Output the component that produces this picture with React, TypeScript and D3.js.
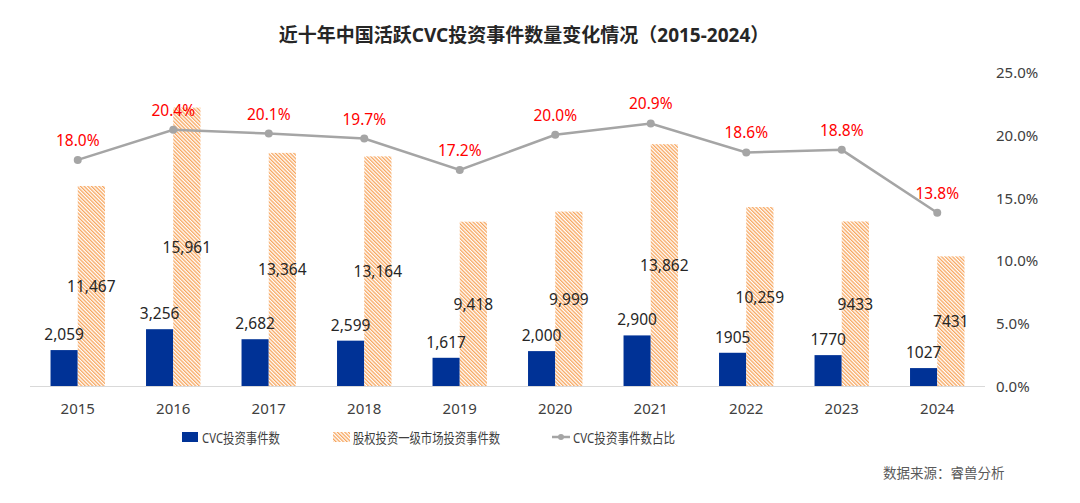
import React, { useRef, useEffect } from "react";
import * as d3 from "d3";

const years = ["2015", "2016", "2017", "2018", "2019", "2020", "2021", "2022", "2023", "2024"];
const cvcCounts = [2059, 3256, 2682, 2599, 1617, 2000, 2900, 1905, 1770, 1027];
const cvcLabels = ["2,059", "3,256", "2,682", "2,599", "1,617", "2,000", "2,900", "1905", "1770", "1027"];
const equityCounts = [11467, 15961, 13364, 13164, 9418, 9999, 13862, 10259, 9433, 7431];
const equityLabels = ["11,467", "15,961", "13,364", "13,164", "9,418", "9,999", "13,862", "10,259", "9433", "7431"];
const cvcShare = [18.0, 20.4, 20.1, 19.7, 17.2, 20.0, 20.9, 18.6, 18.8, 13.8];
const pctTicks = [0, 5, 10, 15, 20, 25];

const W = 1080;
const H = 503;
const FONT = "'Noto Sans', 'Noto Sans CJK SC', sans-serif";
const BLUE = "#003296";
const ORANGE = "#F7A65E";
const GRAY = "#A5A5A5";

const App: React.FC = () => {
  const ref = useRef<SVGSVGElement | null>(null);

  useEffect(() => {
    const svg = d3.select(ref.current);
    svg.selectAll("*").remove();
    svg.attr("width", W).attr("height", H).attr("viewBox", `0 0 ${W} ${H}`);

    // hatch pattern for the equity bars
    const defs = svg.append("defs");
    const pat = defs
      .append("pattern")
      .attr("id", "hatch")
      .attr("patternUnits", "userSpaceOnUse")
      .attr("width", 2.6)
      .attr("height", 2.6)
      .attr("patternTransform", "rotate(-45)");
    pat.append("rect").attr("width", 2.6).attr("height", 2.6).attr("fill", "#fff");
    pat.append("rect").attr("width", 1.3).attr("height", 2.6).attr("fill", ORANGE);

    const top = 72;
    const base = 386;
    const x = d3.scaleBand<string>().domain(years).range([30, 985]).paddingInner(0.43).paddingOuter(0.215);
    const bw = x.bandwidth() / 2;
    const yBar = d3.scaleLinear().domain([0, 18000]).range([base, top]);
    const yPct = d3.scaleLinear().domain([0, 25]).range([base, top]);
    const cx = (i: number) => (x(years[i]) as number) + bw;

    // title
    svg
      .append("text")
      .attr("x", 524)
      .attr("y", 35)
      .attr("text-anchor", "middle")
      .attr("dominant-baseline", "central")
      .attr("font-family", FONT)
      .attr("font-weight", 700)
      .attr("font-size", 19)
      .attr("fill", "#262626")
      .text("近十年中国活跃CVC投资事件数量变化情况（2015-2024）");

    // right axis labels
    svg
      .append("g")
      .selectAll("text")
      .data(pctTicks)
      .enter()
      .append("text")
      .attr("x", 996)
      .attr("y", (d) => yPct(d))
      .attr("dominant-baseline", "central")
      .attr("font-family", FONT)
      .attr("font-size", 15)
      .attr("fill", "#404040")
      .text((d) => d.toFixed(1) + "%");

    // baseline
    svg
      .append("line")
      .attr("x1", 30)
      .attr("x2", 985)
      .attr("y1", base + 0.5)
      .attr("y2", base + 0.5)
      .attr("stroke", "#D9D9D9")
      .attr("stroke-width", 1);

    const g = svg.append("g");

    // CVC bars
    g.selectAll("rect.cvc")
      .data(cvcCounts)
      .enter()
      .append("rect")
      .attr("class", "cvc")
      .attr("x", (_, i) => x(years[i]) as number)
      .attr("y", (d) => yBar(d))
      .attr("width", bw)
      .attr("height", (d) => base - yBar(d))
      .attr("fill", BLUE);

    // equity bars
    g.selectAll("rect.eq")
      .data(equityCounts)
      .enter()
      .append("rect")
      .attr("class", "eq")
      .attr("x", (_, i) => cx(i))
      .attr("y", (d) => yBar(d))
      .attr("width", bw)
      .attr("height", (d) => base - yBar(d))
      .attr("fill", "url(#hatch)");

    // share line
    const line = d3
      .line<number>()
      .x((_, i) => cx(i))
      .y((d) => yPct(d));
    g.append("path")
      .datum(cvcShare)
      .attr("d", line)
      .attr("fill", "none")
      .attr("stroke", GRAY)
      .attr("stroke-width", 2.5);
    g.selectAll("circle.pt")
      .data(cvcShare)
      .enter()
      .append("circle")
      .attr("class", "pt")
      .attr("cx", (_, i) => cx(i))
      .attr("cy", (d) => yPct(d))
      .attr("r", 4)
      .attr("fill", GRAY);

    // labels
    const labelText = (sel: d3.Selection<SVGTextElement, any, any, any>) =>
      sel.attr("text-anchor", "middle").attr("font-family", FONT).attr("font-size", 15.5);

    g.selectAll("text.cvcl")
      .data(cvcCounts)
      .enter()
      .append("text")
      .attr("class", "cvcl")
      .attr("x", (_, i) => (x(years[i]) as number) + bw / 2)
      .attr("y", (d) => yBar(d) - 10)
      .attr("fill", "#262626")
      .call(labelText)
      .text((_, i) => cvcLabels[i]);

    g.selectAll("text.eql")
      .data(equityCounts)
      .enter()
      .append("text")
      .attr("class", "eql")
      .attr("x", (_, i) => cx(i) + bw / 2)
      .attr("y", (d) => yBar(d / 2))
      .attr("dominant-baseline", "central")
      .attr("fill", "#262626")
      .call(labelText)
      .text((_, i) => equityLabels[i]);

    g.selectAll("text.pctl")
      .data(cvcShare)
      .enter()
      .append("text")
      .attr("class", "pctl")
      .attr("x", (_, i) => cx(i))
      .attr("y", (d) => yPct(d) - 14)
      .attr("fill", "#FF0000")
      .call(labelText)
      .text((d) => d.toFixed(1) + "%");

    // x labels
    g.selectAll("text.xl")
      .data(years)
      .enter()
      .append("text")
      .attr("class", "xl")
      .attr("x", (_, i) => cx(i))
      .attr("y", 408)
      .attr("dominant-baseline", "central")
      .attr("text-anchor", "middle")
      .attr("font-family", FONT)
      .attr("font-size", 15)
      .attr("fill", "#404040")
      .text((d) => d);

    // legend (text squeezed to the reference widths)
    const lg = svg.append("g").attr("font-family", FONT).attr("font-size", 14).attr("fill", "#404040");
    const ly = 437;
    lg.append("rect").attr("x", 182).attr("y", ly - 5).attr("width", 16).attr("height", 10).attr("fill", BLUE);
    lg.append("text")
      .attr("x", 202)
      .attr("y", ly)
      .attr("dominant-baseline", "central")
      .attr("textLength", 78)
      .attr("lengthAdjust", "spacingAndGlyphs")
      .text("CVC投资事件数");
    lg.append("rect").attr("x", 333).attr("y", ly - 5).attr("width", 17).attr("height", 10).attr("fill", "url(#hatch)");
    lg.append("text")
      .attr("x", 353)
      .attr("y", ly)
      .attr("dominant-baseline", "central")
      .attr("textLength", 147)
      .attr("lengthAdjust", "spacingAndGlyphs")
      .text("股权投资一级市场投资事件数");
    lg.append("line").attr("x1", 552).attr("x2", 570).attr("y1", ly).attr("y2", ly).attr("stroke", GRAY).attr("stroke-width", 2.5);
    lg.append("circle").attr("cx", 561).attr("cy", ly).attr("r", 3).attr("fill", GRAY);
    lg.append("text")
      .attr("x", 573)
      .attr("y", ly)
      .attr("dominant-baseline", "central")
      .attr("textLength", 102)
      .attr("lengthAdjust", "spacingAndGlyphs")
      .text("CVC投资事件数占比");

    // source
    svg
      .append("text")
      .attr("x", 883)
      .attr("y", 473)
      .attr("dominant-baseline", "central")
      .attr("font-family", FONT)
      .attr("font-size", 13.5)
      .attr("fill", "#595959")
      .text("数据来源：睿兽分析");
  }, []);

  return <svg ref={ref} style={{ position: "absolute", left: 0, top: 0, background: "#fff" }} />;
};

export default App;
